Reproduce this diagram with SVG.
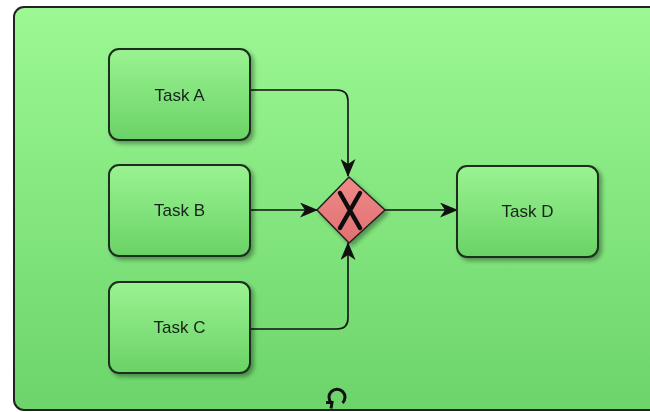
<svg xmlns="http://www.w3.org/2000/svg" width="650" height="412" viewBox="0 0 650 412">
  <defs>
    <linearGradient id="bg" x1="0" y1="0" x2="0" y2="1">
      <stop offset="0" stop-color="#9cf894"/>
      <stop offset="1" stop-color="#6cd46a"/>
    </linearGradient>
    <linearGradient id="task" x1="0" y1="0" x2="0" y2="1">
      <stop offset="0" stop-color="#9af392"/>
      <stop offset="1" stop-color="#6ad266"/>
    </linearGradient>
    <linearGradient id="gw" x1="0" y1="0" x2="0" y2="1">
      <stop offset="0" stop-color="#f08a8a"/>
      <stop offset="1" stop-color="#e07070"/>
    </linearGradient>
    <filter id="sh" x="-10%" y="-10%" width="130%" height="130%">
      <feGaussianBlur in="SourceAlpha" stdDeviation="2"/>
      <feOffset dx="3" dy="3"/>
      <feComponentTransfer><feFuncA type="linear" slope="0.35"/></feComponentTransfer>
      <feMerge><feMergeNode/><feMergeNode in="SourceGraphic"/></feMerge>
    </filter>
    <marker id="arr" viewBox="0 0 18 15" refX="17" refY="7.5" markerWidth="18" markerHeight="15" markerUnits="userSpaceOnUse" orient="auto">
      <path d="M0,0 L18,7.5 L0,15 L5,7.5 Z" fill="#111"/>
    </marker>
  </defs>
  <style>
    .task rect { fill: url(#task); stroke: #1c2e1c; stroke-width: 2; }
    .task text { font-family: "Liberation Sans", Arial, sans-serif; font-size: 17px; fill: #17221a; text-anchor: middle; }
    .conn path { fill: none; stroke: #111; stroke-width: 1.6; }
  </style>
  <rect x="0" y="0" width="650" height="412" fill="#ffffff"/>
  <g id="subprocess">
    <rect x="14" y="7" width="660" height="403" rx="10" fill="url(#bg)" stroke="#222" stroke-width="2"/>
    <g id="loop-marker" fill="none" stroke="#111" stroke-width="3">
      <path d="M331.5,403 A8,8 0 1 1 342.5,403"/>
      <path d="M326,402.5 L332,402.5 L331,408.5"/>
    </g>
  </g>
  <g class="conn" id="connectors">
    <path d="M250,90 H337 Q348,90 348,101 V176" marker-end="url(#arr)"/>
    <path d="M250,210 H317" marker-end="url(#arr)"/>
    <path d="M250,329 H337 Q348,329 348,318 V243" marker-end="url(#arr)"/>
    <path d="M385,210 H457" marker-end="url(#arr)"/>
  </g>
  <g id="taskA" class="task" filter="url(#sh)">
    <rect x="109" y="49" width="141" height="91" rx="10"/>
    <text x="179.5" y="101">Task A</text>
  </g>
  <g id="taskB" class="task" filter="url(#sh)">
    <rect x="109" y="165" width="141" height="91" rx="10"/>
    <text x="179.5" y="216">Task B</text>
  </g>
  <g id="taskC" class="task" filter="url(#sh)">
    <rect x="109" y="282" width="141" height="91" rx="10"/>
    <text x="179.5" y="333">Task C</text>
  </g>
  <g id="taskD" class="task" filter="url(#sh)">
    <rect x="457" y="166" width="141" height="91" rx="10"/>
    <text x="527.5" y="217">Task D</text>
  </g>
  <g id="gateway" filter="url(#sh)">
    <path d="M349,177 L385,210 L349,243 L317,210 Z" fill="url(#gw)" stroke="#222" stroke-width="1.5"/>
    <path d="M340,193 L360,228 M360,193 L340,228" stroke="#111" stroke-width="4.5" stroke-linecap="round"/>
  </g>
</svg>
